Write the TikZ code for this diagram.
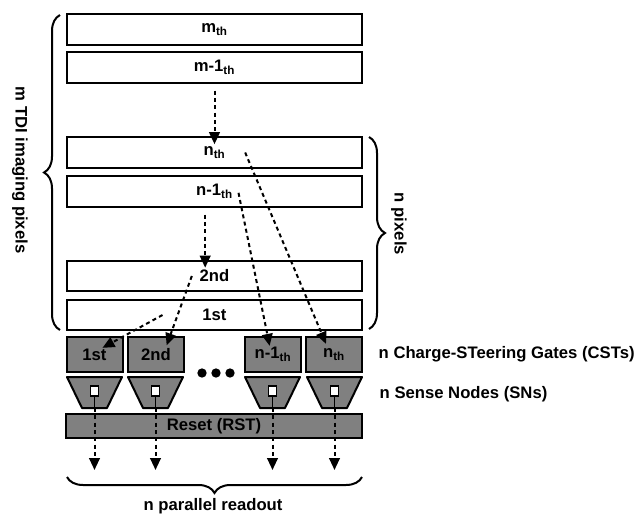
\documentclass[tikz,border=0pt]{standalone}
\usepackage{fontspec}
\setmainfont{Liberation Sans}
\usetikzlibrary{shapes, arrows.meta, positioning, calc, decorations.pathreplacing}

\begin{document}
\begin{tikzpicture}[x=0.75pt, y=-0.75pt,
        every node/.style={font=\fontsize{12.5}{15}\selectfont\bfseries},
        pixrow/.style={rectangle, draw=black, line width=1.5pt, fill=white, minimum width=221pt, minimum height=23pt, inner sep=0pt},
        cstgate/.style={rectangle, draw=black, line width=1.5pt, fill=black!50, minimum width=42pt, minimum height=26pt, inner sep=0pt},
        sensenode/.style={draw=black, line width=1.5pt, fill=black!50, line join=round},
        snbox/.style={rectangle, draw=black, line width=1.3pt, fill=white, minimum width=6pt, minimum height=8pt, inner sep=0pt},
        rstbar/.style={rectangle, draw=black, line width=1.5pt, fill=black!50, minimum width=222pt, minimum height=18pt, inner sep=0pt},
        flow/.style={-{Triangle[width=8pt,length=9pt]}, line width=1.5pt, dash pattern=on 3pt off 2.5pt},
        curly/.style={decorate, decoration={brace, amplitude=12pt, aspect=0.5}, line width=1.5pt},
        dotmark/.style={circle, fill=black, minimum size=7pt, inner sep=0pt}
    ]
        \useasboundingbox (0,0) rectangle (644,515);

        % TDI pixel rows
        \node[pixrow] (mth) at (214.5, 29.5) {m\textsubscript{th}};
        \node[pixrow] (m1) at (214.5, 67.5) {m-1\textsubscript{th}};
        \node[pixrow] (nth) at (214.5, 152.5) {n\textsubscript{th}};
        \node[pixrow] (n1) at (214.5, 191.5) {n-1\textsubscript{th}};
        \node[pixrow] (two) at (214.5, 276) {2nd};
        \node[pixrow] (one) at (214.5, 315) {1st};

        % Charge-steering gates
        \node[cstgate] (g1) at (94.5, 354.5) {1st};
        \node[cstgate] (g2) at (156, 354.5) {2nd};
        \node[cstgate] (gn1) at (273, 354.5) {n-1\textsubscript{th}};
        \node[cstgate] (gn) at (334, 354.5) {n\textsubscript{th}};
        \node[dotmark] (d1) at (202, 373) {};
        \node[dotmark] (d2) at (216, 373) {};
        \node[dotmark] (d3) at (230, 373) {};

        % Sense nodes
        \foreach \i/\x in {1/94.5, 2/155.5, 3/272.5, 4/334.5} {
            \draw[sensenode] (\x-27.5, 377) -- (\x+27.5, 377) -- (\x+12.5, 408) -- (\x-12.5, 408) -- cycle;
            \coordinate (sn\i) at (\x, 408);
            \node[snbox] (q\i) at (\x, 391) {};
            \draw[line width=1.2pt] (q\i.south) -- (sn\i);
            \coordinate (out\i) at (\x, 470);
        }

        % Reset
        \node[rstbar] (rst) at (214, 426) {Reset (RST)};

        % Transfer down the column
        \draw[flow] ([yshift=-5pt]m1.south) -- ([yshift=-6pt]nth.north);
        \draw[flow] ([xshift=-7pt, yshift=-5pt]n1.south) -- ([xshift=-7pt, yshift=-6pt]two.north);

        % Rows to gates
        \draw[flow] ([xshift=23pt]nth.center) -- ([xshift=-6pt, yshift=8pt]gn.center);
        \draw[flow] ([xshift=18pt, yshift=-1pt]n1.center) -- ([xshift=-2.5pt, yshift=6.5pt]gn1.center);
        \draw[flow] ([xshift=-17pt]two.center) -- ([xshift=8pt, yshift=7pt]g2.center);
        \draw[flow] ([xshift=-39pt]one.center) -- ([xshift=6pt, yshift=5pt]g1.center);

        % Parallel readout
        \foreach \i in {1,...,4} {
            \draw[flow] (sn\i) -- (out\i);
        }

        % Braces and labels
        \draw[curly] (60, 330) -- (60, 15);
        \node[rotate=-90] (mlabel) at (20, 170) {m TDI imaging pixels};
        \draw[curly] (369, 137) -- (369, 329);
        \node[rotate=-90] (nlabel) at (399, 224) {n pixels};
        \draw[curly] (362, 477) -- (67, 477);
        \node (readout) at (213, 506) {n parallel readout};

        \node[anchor=west] (cstlabel) at (374, 354) {n Charge-STeering Gates (CSTs)};
        \node[anchor=west] (snlabel) at (375, 394) {n Sense Nodes (SNs)};
    \end{tikzpicture}
\end{document}
